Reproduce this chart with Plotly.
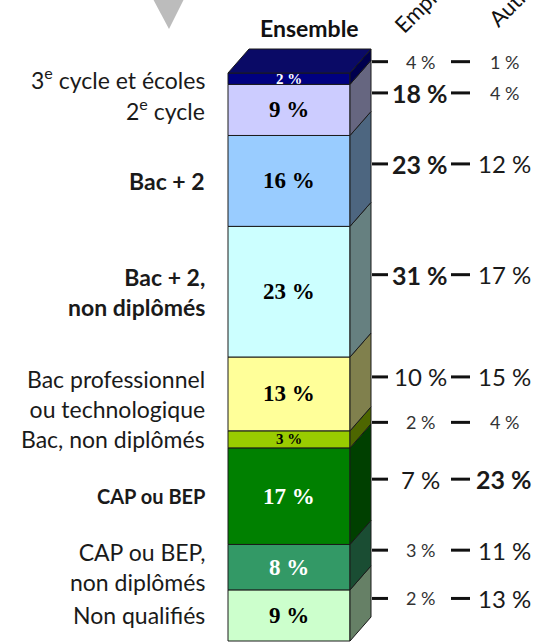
import plotly.graph_objects as go

# Niveaux de formation (du haut vers le bas de la colonne)
categories = [
    "3<sup>e</sup> cycle et écoles",
    "2<sup>e</sup> cycle",
    "Bac + 2",
    "Bac + 2,<br>non diplômés",
    "Bac professionnel<br>ou technologique",
    "Bac, non diplômés",
    "CAP ou BEP",
    "CAP ou BEP,<br>non diplômés",
    "Non qualifiés",
]
ensemble = [2, 9, 16, 23, 13, 3, 17, 8, 9]
emplois = [4, 18, 23, 31, 10, 2, 7, 3, 2]
autres = [1, 4, 12, 17, 15, 4, 23, 11, 13]
bold_labels = [False, False, True, True, False, False, True, False, False]
bold_emplois = [False, True, True, True, False, False, False, False, False]
bold_autres = [False, False, False, False, False, False, True, False, False]
small_emplois = [True, False, False, False, False, True, False, True, True]
small_autres = [True, True, False, False, False, True, False, False, False]

front_colors = ["#000080", "#ccccff", "#99ccff", "#ccffff", "#ffff99",
                "#99cc00", "#008000", "#339966", "#ccffcc"]
side_colors = ["#00004d", "#666680", "#4d6680", "#668080", "#80804d",
               "#4d6600", "#004000", "#1a4d33", "#668066"]
text_colors = ["white", "black", "black", "black", "black",
               "black", "white", "white", "black"]
TOP_COLOR = "#0a0a66"

# Scale: x in pixels, y in percent
W, H = 545, 642
PX = 5.68                      # pixels per percent
Y_BOTTOM = -1 / PX
Y_TOP = 100 + 73 / PX
BAR_X, BAR_W = 289, 122
DX, DY = 21, 24 / PX           # depth of the 3D column
EDGE = "#1a1a1a"
FONT = "Lato, 'Open Sans', sans-serif"
SERIF = "'Liberation Serif', 'Times New Roman', serif"


def py(p):
    """pixel row from the top -> y value"""
    return Y_TOP - p / PX


fig = go.Figure()

# stack from the bottom: reverse order
order = list(range(len(categories)))[::-1]
bases = {}
acc = 0
for i in order:
    bases[i] = acc
    acc += ensemble[i]

x0, x1 = BAR_X - BAR_W / 2, BAR_X + BAR_W / 2

for i in order:
    fig.add_trace(go.Bar(
        x=[BAR_X], y=[ensemble[i]], base=[bases[i]], width=[BAR_W],
        marker=dict(color=front_colors[i], line=dict(color=EDGE, width=1)),
        hoverinfo="skip", showlegend=False,
    ))
    b, t = bases[i], bases[i] + ensemble[i]
    fig.add_trace(go.Scatter(
        x=[x1, x1 + DX, x1 + DX, x1, x1],
        y=[b, b + DY, t + DY, t, b],
        fill="toself", fillcolor=side_colors[i], mode="lines",
        line=dict(color=EDGE, width=1), hoverinfo="skip", showlegend=False,
    ))

# top face
total = sum(ensemble)
fig.add_trace(go.Scatter(
    x=[x0, x0 + DX, x1 + DX, x1, x0],
    y=[total, total + DY, total + DY, total, total],
    fill="toself", fillcolor=TOP_COLOR, mode="lines",
    line=dict(color=EDGE, width=1), hoverinfo="skip", showlegend=False,
))

ann = []
shapes = []
for i in range(len(categories)):
    mid = bases[i] + ensemble[i] / 2
    # value inside the column
    small = ensemble[i] <= 3
    ann.append(dict(
        x=BAR_X, y=mid, text=f"<b>{ensemble[i]} %</b>", showarrow=False,
        font=dict(family=SERIF, size=15 if small else 23, color=text_colors[i]),
        xanchor="center", yanchor="middle",
    ))
    # category label
    lbl = f"<b>{categories[i]}</b>" if bold_labels[i] else categories[i]
    size = 20 if categories[i] == "CAP ou BEP" else (23 if bold_labels[i] else 23)
    ann.append(dict(
        x=207, y=mid, text=lbl, showarrow=False, align="right",
        font=dict(family=FONT, size=size, color="#1a1a1a"),
        xanchor="right", yanchor="middle",
    ))
    # right-hand columns
    ry = mid + DY / 2 + 5 / PX
    shapes.append(dict(type="line", x0=372, x1=388, y0=ry, y1=ry,
                       line=dict(color="#111", width=3)))
    shapes.append(dict(type="line", x0=451, x1=470, y0=ry, y1=ry,
                       line=dict(color="#111", width=3)))
    for val, b_, s_, xc in ((emplois[i], bold_emplois[i], small_emplois[i], 420),
                            (autres[i], bold_autres[i], small_autres[i], 504)):
        txt = f"<b>{val} %</b>" if b_ else f"{val} %"
        ann.append(dict(
            x=xc, y=ry, text=txt, showarrow=False,
            font=dict(family=FONT, size=18 if s_ else (25 if b_ else 24),
                      color="#333" if s_ else "#1a1a1a"),
            xanchor="center", yanchor="middle",
        ))

# column headers
ann.append(dict(x=309, y=py(28), text="<b>Ensemble</b>", showarrow=False,
                font=dict(family=FONT, size=23, color="#111"),
                xanchor="center", yanchor="middle"))
ann.append(dict(x=424, y=py(2), text="Emplois", showarrow=False, textangle=-45,
                font=dict(family=FONT, size=22, color="#111"),
                xanchor="center", yanchor="middle"))
ann.append(dict(x=514, y=py(0), text="Autres", showarrow=False, textangle=-45,
                font=dict(family=FONT, size=22, color="#111"),
                xanchor="center", yanchor="middle"))

# marker triangle
fig.add_trace(go.Scatter(
    x=[153, 184, 169, 153], y=[py(-1), py(-1), py(29), py(-1)],
    fill="toself", fillcolor="#bcbcbc", mode="lines",
    line=dict(color="#bcbcbc", width=0), hoverinfo="skip", showlegend=False,
))

fig.update_layout(
    width=W, height=H, margin=dict(l=0, r=0, t=0, b=0),
    paper_bgcolor="white", plot_bgcolor="white",
    barmode="overlay", showlegend=False,
    xaxis=dict(range=[0, W], visible=False, fixedrange=True),
    yaxis=dict(range=[Y_BOTTOM, Y_TOP], visible=False, fixedrange=True),
    annotations=ann, shapes=shapes,
)

fig.write_html("out.html")
